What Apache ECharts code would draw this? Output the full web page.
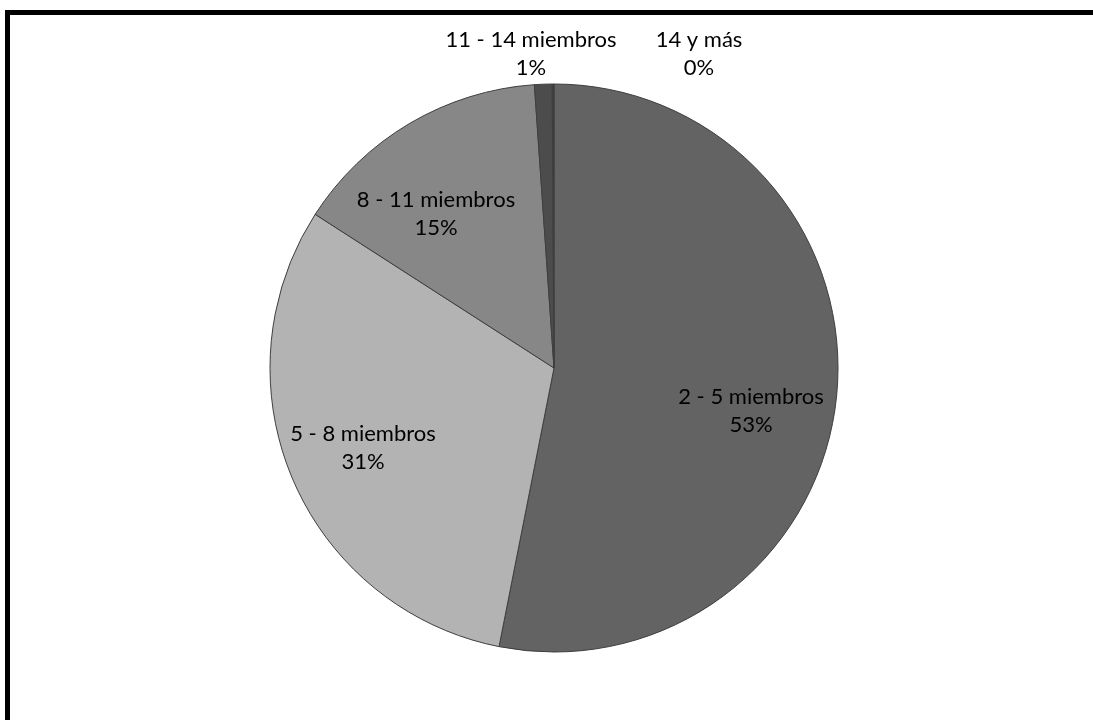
<!DOCTYPE html>
<html>
<head>
<meta charset="utf-8">
<script src="https://cdn.jsdelivr.net/npm/echarts@6/dist/echarts.min.js"></script>
<style>
  html, body { margin: 0; padding: 0; background: #ffffff; }
  #chart { width: 1093px; height: 720px; }
</style>
</head>
<body>
<div id="chart"></div>
<script>
// Household size groups and their share of households
const categories = ['2 - 5 miembros', '5 - 8 miembros', '8 - 11 miembros', '11 - 14 miembros', '14 y más'];
const shares = [53.1, 31.0, 14.8, 1.0, 0.1];
const sliceColors = ['#636363', '#b3b3b3', '#878787', '#4c4c4c', '#3a3a3a'];

// Label anchor points (centre of each two-line label)
const labelAnchors = [[751, 411], [363, 448], [436, 214], [531, 54], [699, 54]];

const total = shares.reduce((a, b) => a + b, 0);

const chart = echarts.init(document.getElementById('chart'), null, { renderer: 'canvas' });

chart.setOption({
  backgroundColor: '#ffffff',
  animation: false,
  graphic: [{
    type: 'rect',
    shape: { x: 7.5, y: 12.5, width: 1200, height: 800 },
    style: { fill: 'none', stroke: '#000000', lineWidth: 5 },
    z: 10
  }],
  series: [{
    type: 'pie',
    center: [554, 368],
    radius: [0, 284],
    startAngle: 90,
    clockwise: true,
    avoidLabelOverlap: false,
    data: categories.map((name, i) => ({
      name: name,
      value: shares[i],
      itemStyle: { color: sliceColors[i] }
    })),
    itemStyle: { borderColor: '#3f3f3f', borderWidth: 1 },
    label: {
      show: true,
      position: 'inside',
      color: '#000000',
      fontFamily: 'Lato, "Open Sans", sans-serif',
      fontSize: 22,
      lineHeight: 28,
      align: 'center',
      formatter: p => p.name + '\n' + Math.round(p.value / total * 100) + '%'
    },
    labelLine: { show: false },
    labelLayout: p => ({
      x: labelAnchors[p.dataIndex][0],
      y: labelAnchors[p.dataIndex][1],
      align: 'center',
      verticalAlign: 'middle'
    }),
    emphasis: { disabled: true }
  }]
});
</script>
</body>
</html>
